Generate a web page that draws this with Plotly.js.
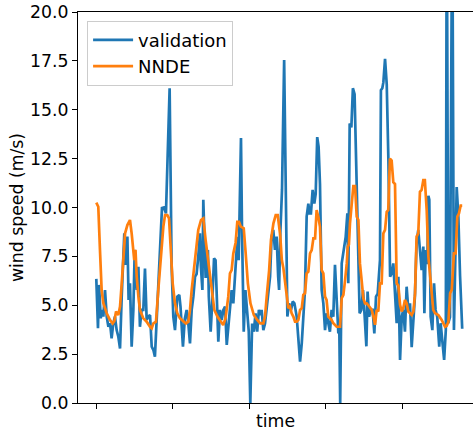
<!DOCTYPE html>
<html>
<head>
<meta charset="utf-8">
<script src="https://cdn.plot.ly/plotly-3.0.1.min.js"></script>
<style>html,body{margin:0;padding:0;background:#fff;}#chart{width:473px;height:431px;}</style>
</head>
<body>
<div id="chart"></div>
<script>
// time in hours (hourly samples, 10 days)
const valHours = [0,1.1,1.8,2.9,3.7,4.6,5.7,6.8,7.9,9.0,10.0,11.1,12.2,13.3,14.4,15.5,16.6,17.7,18.3,19.2,20.3,21.1,22.0,23.1,24.2,25.1,26.4,27.5,28.5,29.6,30.7,31.8,32.9,34.0,35.1,36.2,37.3,38.3,39.4,40.5,41.5,42.9,44.2,45.5,47.9,49.2,50.3,51.4,52.9,54.2,55.0,56.6,57.8,59.0,60.1,61.2,62.3,63.4,64.5,65.5,66.6,67.7,68.3,69.3,69.9,70.6,71.4,72.1,72.9,73.5,74.7,75.8,76.9,77.9,78.6,79.7,80.8,81.9,83.0,84.1,85.2,86.2,87.3,88.4,89.5,90.6,91.6,92.2,93.0,94.5,95.2,96.3,97.4,98.5,99.6,100.6,101.8,102.9,104.0,105.1,106.2,107.3,108.0,109.1,110.2,111.3,112.4,113.5,114.5,115.6,116.7,117.8,118.8,119.4,120.2,121.3,122.7,123.9,124.8,125.9,127.2,128.3,129.4,130.9,132.0,133.1,134.2,135.2,136.3,137.4,138.5,139.3,140.2,141.3,142.4,143.3,144.3,145.2,146.1,147.2,148.3,149.4,150.4,151.5,152.6,153.7,154.8,155.9,157.0,158.1,158.7,159.3,160.3,161.8,162.9,164.0,164.6,165.5,166.6,167.6,168.7,169.8,170.9,172.0,173.1,174.2,175.3,176.4,177.2,178.2,179.3,180.5,181.6,182.7,183.8,184.4,185.3,185.9,186.8,187.5,188.6,189.7,190.8,191.9,193.0,194.0,195.1,196.2,197.3,198.4,199.5,200.5,201.6,202.7,203.8,204.9,206.0,207.1,208.1,209.2,210.3,211.4,212.5,213.6,214.3,215.1,216.2,216.9,217.5,218.4,219.5,220.6,221.6,222.7,224.0,224.9,226.2,227.2,228.3,228.9,229.9,231.0,232.5,233.6,235.4,236.5,237.6,239.0];
const validation = [6.35,3.82,6.04,4.33,4.76,4.42,5.78,4.42,3.90,4.07,3.31,4.07,4.42,3.73,3.39,2.79,5.44,7.83,8.68,7.06,8.51,5.27,6.12,2.88,4.76,7.83,5.78,6.97,3.90,4.76,4.76,6.88,4.25,4.42,4.50,2.88,2.71,2.37,4.07,6.46,8.0,9.97,10.0,9.7,16.1,7.0,4.42,3.73,5.44,5.53,4.93,2.88,4.3,4.76,4.07,3.05,4.76,5.44,6.46,6.6,7.48,8.68,7.0,5.78,10.4,8.68,6.46,6.46,7.83,5.44,3.65,5.27,7.40,7.3,5.78,3.14,4.76,4.25,4.76,4.93,2.97,3.90,5.10,5.78,5.10,6.46,8.17,8.5,7.3,13.55,8.68,3.65,5.78,4.76,3.65,0.0,4.07,3.65,4.59,3.65,4.76,4.5,4.76,3.73,4.07,4.85,5.78,6.46,8.51,8.85,7.83,8.51,6.46,5.78,8.7,10.9,17.55,11.2,4.42,5.1,4.76,5.19,5.1,4.42,3.39,2.12,3.05,4.59,5.78,9.53,10.2,9.7,9.7,10.9,10.2,10.7,13.6,13.1,11.2,5.78,5.1,3.73,4.59,4.1,3.65,4.76,4.42,7.07,5.61,3.56,3.9,0.0,7.14,7.82,8.5,9.7,6.12,14.3,14.1,16.1,15.8,12.1,8.34,4.59,4.76,5.78,4.42,2.9,5.7,4.42,4.76,4.76,3.56,5.44,5.6,6.12,7.31,16.0,16.1,16.4,17.6,16.3,12.4,6.46,6.63,7.14,5.78,4.08,6.46,2.2,4.42,4.76,3.65,5.95,4.76,5.1,2.85,4.59,5.44,8.17,8.85,7.82,6.8,8.0,4.59,7.82,7.1,10.6,10.4,4.42,3.73,6.12,4.76,4.4,2.88,4.08,2.88,2.2,3.73,26,4.08,4.4,26,3.73,11.05,9.5,6.5,3.8];

const nndeHours = [0,1.3,2.4,3.5,4.6,6.8,8.9,10.7,11.8,12.9,14.4,15.5,16.6,17.7,18.8,20.3,22.0,23.1,24.2,24.8,25.6,26.4,27.5,28.5,30.7,32.9,35.1,36.2,37.3,39.0,40.5,42.0,43.8,44.9,46.4,47.5,48.6,49.9,51.4,52.9,54.7,56.8,58.5,60.1,61.2,62.3,64.5,66.6,68.4,69.9,71.4,72.9,74.9,77.1,79.1,81.4,82.9,84.4,86.2,87.3,88.4,89.5,90.6,91.0,92.1,93.2,94.4,96.3,97.4,99.0,100.7,102.9,105.1,107.1,109.1,110.2,111.3,112.9,114.1,115.7,117.2,118.5,120.1,121.2,122.2,123.3,124.3,125.4,126.5,127.6,128.7,129.8,130.9,132.0,133.1,134.2,135.2,136.3,137.4,138.5,139.6,140.7,141.8,142.9,143.9,145.0,146.1,147.2,148.3,149.4,150.4,151.5,152.6,153.7,154.8,155.9,157.0,158.1,159.2,160.3,161.4,162.5,163.6,164.2,165.0,165.7,166.8,167.9,169.0,170.1,171.2,172.2,173.3,174.4,175.5,176.6,177.7,178.8,179.9,181.0,182.1,183.1,184.2,185.3,186.4,187.5,188.6,189.7,190.7,191.8,192.9,194.0,195.1,196.2,197.3,198.4,199.5,200.5,201.6,202.7,203.8,206.0,207.1,208.2,209.2,210.3,211.4,212.5,213.6,214.6,215.8,216.9,217.9,219.0,220.1,221.2,223.4,225.6,226.7,227.8,228.9,230.0,231.1,232.2,233.6,234.7,235.8,236.9,238.0,239.0];
const nnde = [10.25,10.04,7.83,5.78,5.1,4.59,4.25,4.07,4.2,4.68,4.5,4.93,6.12,7.48,8.68,9.1,9.36,8.68,7.83,7.31,7.83,6.46,5.44,4.76,4.33,4.16,3.90,3.82,4.07,4.16,5.78,7.48,9.02,9.61,9.61,9.44,7.83,6.12,5.1,4.59,4.33,4.16,4.07,4.16,4.76,5.78,7.31,8.85,9.36,9.44,8.34,7.31,5.95,4.76,4.42,4.16,3.99,4.33,5.44,6.63,6.8,7.65,7.99,8.2,9.27,9.27,9.02,8.94,7.83,6.12,5.1,4.5,4.25,4.07,4.07,4.42,5.44,6.8,8.34,9.19,9.61,9.61,8.6,7.3,6.9,6.12,5.44,4.85,4.93,4.59,4.42,4.16,4.16,4.25,4.76,4.85,5.53,5.61,6.63,6.72,7.65,7.82,8.42,8.42,9.87,9.53,9.02,6.8,6.63,5.44,5.27,4.42,4.33,4.25,4.08,4.0,3.9,3.9,3.9,5.36,5.53,6.29,7.14,7.99,8.1,9.19,10.2,11.1,11.1,9.53,9.36,7.14,6.29,5.36,5.1,5.1,5.0,4.85,4.76,4.42,4.0,4.76,4.68,6.12,6.12,8.68,8.85,9.78,9.87,12.5,12.4,11.3,11.2,6.12,6.0,5.02,4.68,4.85,5.27,5.1,4.68,4.5,4.68,5.61,8.51,8.68,10.8,10.9,11.4,11.4,9.87,7.48,6.63,5.95,4.76,4.6,4.5,4.25,4.08,3.9,3.95,4.16,5.61,5.8,7.65,7.65,9.53,9.7,10.1,10.1];

const xTicks = [0,50,100,150,200];
const yTicks = [0,2.5,5,7.5,10,12.5,15,17.5,20];
const yTickLabels = ['0.0','2.5','5.0','7.5','10.0','12.5','15.0','17.5','20.0'];

const FONT = 'DejaVu Sans, sans-serif';
const FS = 17.3;
const traces = [
  {x: valHours, y: validation, type: 'scatter', mode: 'lines', name: 'validation',
   line: {color: '#1f77b4', width: 2.7}},
  {x: nndeHours, y: nnde, type: 'scatter', mode: 'lines', name: 'NNDE',
   line: {color: '#ff7f0e', width: 2.7}}
];
const layout = {
  width: 473, height: 431,
  margin: {l: 78, r: 0, t: 12, b: 28, pad: 0},
  paper_bgcolor: '#fff', plot_bgcolor: '#fff',
  font: {family: FONT, size: FS, color: '#000'},
  showlegend: true,
  legend: {x: 0.023, y: 0.978, xanchor: 'left', yanchor: 'top',
    bgcolor: 'rgba(255,255,255,0.8)', bordercolor: '#cccccc', borderwidth: 1,
    font: {family: FONT, size: 18, color: '#000'}, itemwidth: 40, tracegroupgap: 0},
  xaxis: {range: [-11.95, 246.05], tickmode: 'array', tickvals: xTicks, showticklabels: false,
    ticks: 'outside', ticklen: 5, tickwidth: 1, tickcolor: '#000',
    showline: true, linecolor: '#000', linewidth: 1, mirror: true,
    showgrid: false, zeroline: false,
    title: {text: 'time', font: {family: FONT, size: FS, color: '#000'}, standoff: 8}},
  yaxis: {range: [0, 20], tickmode: 'array', tickvals: yTicks, ticktext: yTickLabels,
    ticks: 'outside', ticklen: 5, tickwidth: 1, tickcolor: '#000',
    showline: true, linecolor: '#000', linewidth: 1, mirror: false,
    showgrid: false, zeroline: false,
    tickfont: {family: FONT, size: FS, color: '#000'},
    title: {text: 'wind speed (m/s)', font: {family: FONT, size: FS, color: '#000'}, standoff: 2}}
};
Plotly.newPlot('chart', traces, layout, {displayModeBar: false, staticPlot: true});
</script>
</body>
</html>
